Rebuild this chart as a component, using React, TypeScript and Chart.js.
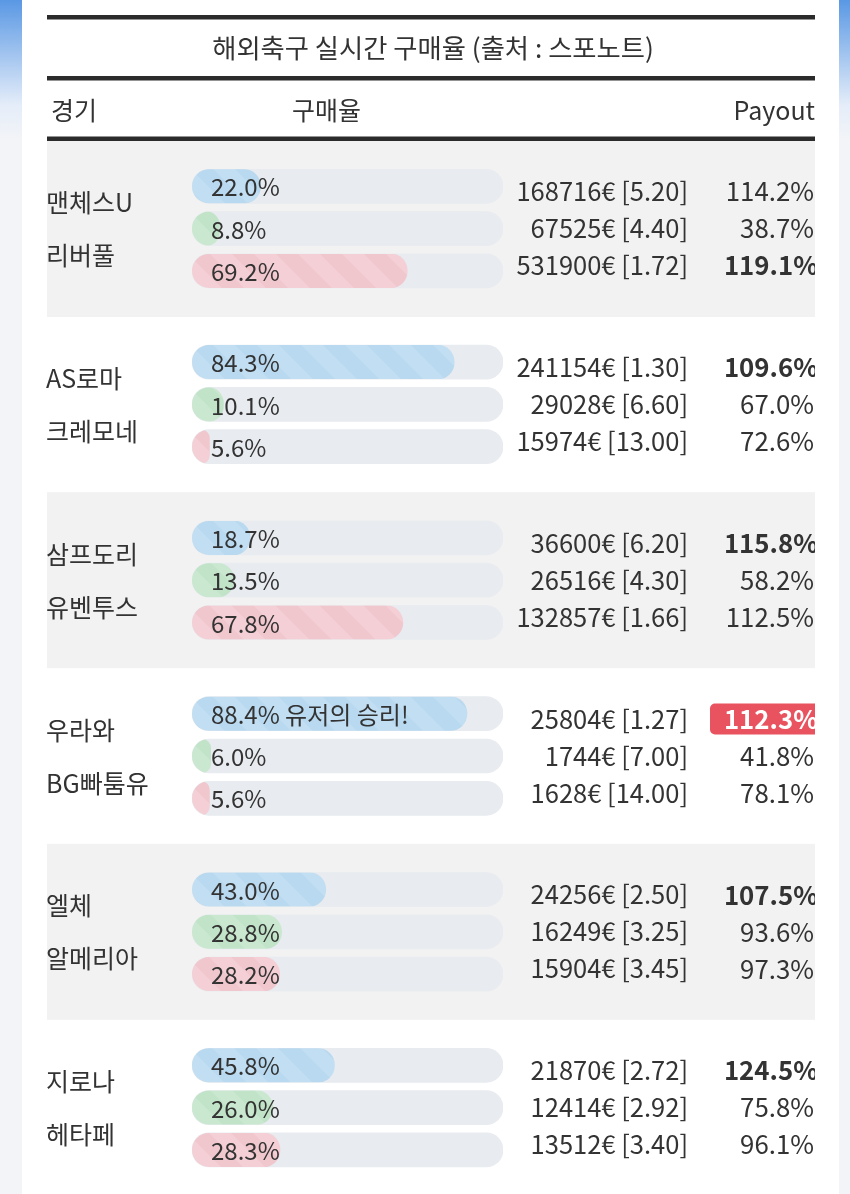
import React, { useEffect, useRef } from "react";
import { Chart, registerables } from "chart.js";
Chart.register(...registerables);

// ---------- data ----------
const TITLE = "해외축구 실시간 구매율 (출처 : 스포노트)";
const HEADER_MATCH = "경기";
const HEADER_RATE = "구매율";
const HEADER_PAYOUT = "Payout";

const HOME_TEAMS = ["맨체스U", "AS로마", "삼프도리", "우라와", "엘체", "지로나"];
const AWAY_TEAMS = ["리버풀", "크레모네", "유벤투스", "BG빠툼유", "알메리아", "헤타페"];

const HOME_RATE = [22.0, 84.3, 18.7, 88.4, 43.0, 45.8];
const DRAW_RATE = [8.8, 10.1, 13.5, 6.0, 28.8, 26.0];
const AWAY_RATE = [69.2, 5.6, 67.8, 5.6, 28.2, 28.3];

const HOME_AMOUNT = [168716, 241154, 36600, 25804, 24256, 21870];
const DRAW_AMOUNT = [67525, 29028, 26516, 1744, 16249, 12414];
const AWAY_AMOUNT = [531900, 15974, 132857, 1628, 15904, 13512];

const HOME_ODDS = ["5.20", "1.30", "6.20", "1.27", "2.50", "2.72"];
const DRAW_ODDS = ["4.40", "6.60", "4.30", "7.00", "3.25", "2.92"];
const AWAY_ODDS = ["1.72", "13.00", "1.66", "14.00", "3.45", "3.40"];

const HOME_PAYOUT = [114.2, 109.6, 115.8, 112.3, 107.5, 124.5];
const DRAW_PAYOUT = [38.7, 67.0, 58.2, 41.8, 93.6, 75.8];
const AWAY_PAYOUT = [119.1, 72.6, 112.5, 78.1, 97.3, 96.1];

// index (0 home, 1 draw, 2 away) of the bold payout in each match
const BEST_PICK = [2, 0, 0, 0, 0, 0];
// index of the pick that won for users (-1 = none)
const USER_WIN = [-1, -1, -1, 0, -1, -1];
const WIN_TEXT = "유저의 승리!";

// ---------- layout ----------
const W = 850;
const H = 1194;
const BAR_LEFT = 192;
const BAR_RIGHT = 503;
const AREA_TOP = 140;
const FIRST_ROW = 186.3;
const ROW_PX = 42.3;
const BLOCK_PX = 175.8;
const FONT = '"Noto Sans CJK KR", "Noto Sans", sans-serif';
const TEXT = "#333333";

const pos = (g: number, r: number) => (g * BLOCK_PX) / ROW_PX + r;

function stripePattern(base: string, light: string): CanvasPattern | string {
  const c = document.createElement("canvas");
  c.width = 44;
  c.height = 44;
  const x = c.getContext("2d");
  if (!x) return base;
  x.fillStyle = base;
  x.fillRect(0, 0, 44, 44);
  x.fillStyle = light;
  for (const k of [-88, -44, 0, 44]) {
    x.beginPath();
    x.moveTo(k, 0);
    x.lineTo(k + 22, 0);
    x.lineTo(k + 66, 44);
    x.lineTo(k + 44, 44);
    x.closePath();
    x.fill();
  }
  const p = x.createPattern(c, "repeat");
  return p || base;
}

export default function App() {
  const ref = useRef<HTMLCanvasElement>(null);

  useEffect(() => {
    const canvas = ref.current;
    if (!canvas) return;

    const blue = stripePattern("#b8d9ef", "#c2def2");
    const green = stripePattern("#c1e4c8", "#c9e8cf");
    const red = stripePattern("#f1c7ce", "#f4d0d6");

    const rows = [HOME_RATE, DRAW_RATE, AWAY_RATE];
    const colored = rows.map((rates, r) => ({
      label: ["홈", "무", "원정"][r],
      data: rates.map((v, g) => ({ x: v, y: pos(g, r) })),
      backgroundColor: [blue, green, red][r],
      borderRadius: 17,
      borderSkipped: false,
      barThickness: 34,
      grouped: false,
    }));
    const trackData: { x: number; y: number }[] = [];
    HOME_RATE.forEach((_, g) => {
      for (let r = 0; r < 3; r++) trackData.push({ x: 100, y: pos(g, r) });
    });
    const track = {
      label: "track",
      data: trackData,
      backgroundColor: "#e8ebef",
      borderRadius: 17,
      borderSkipped: false,
      barThickness: 34,
      grouped: false,
    };

    const yMin = -(FIRST_ROW - AREA_TOP) / ROW_PX;
    const yMax = yMin + (H - AREA_TOP) / ROW_PX;

    const tablePlugin = {
      id: "tablePlugin",
      beforeDraw(chart: any) {
        const ctx: CanvasRenderingContext2D = chart.ctx;
        const ys = chart.scales.y;
        ctx.save();
        ctx.fillStyle = "#f3f4f7";
        ctx.fillRect(0, 0, W, H);
        const grad = ctx.createLinearGradient(0, 0, 0, 140);
        grad.addColorStop(0, "#5a98e4");
        grad.addColorStop(0.75, "#e4edf9");
        grad.addColorStop(1, "#f3f4f7");
        ctx.fillStyle = grad;
        ctx.fillRect(0, 0, 22, 140);
        ctx.fillRect(839, 0, 11, 140);
        ctx.fillStyle = "#ffffff";
        ctx.fillRect(22, 0, 817, H);
        // shaded match blocks
        ctx.fillStyle = "#f2f2f2";
        HOME_TEAMS.forEach((_, g) => {
          if (g % 2 === 0) {
            const mid = ys.getPixelForValue(pos(g, 1));
            ctx.fillRect(47, Math.max(141, mid - 88), 768, 176);
          }
        });
        // rules
        ctx.fillStyle = "#2b2b2b";
        ctx.fillRect(47, 15, 768, 4.5);
        ctx.fillRect(47, 76, 768, 4.5);
        ctx.fillRect(47, 136.5, 768, 4.5);
        // title & header
        ctx.fillStyle = TEXT;
        ctx.textBaseline = "middle";
        ctx.font = `26.3px ${FONT}`;
        ctx.textAlign = "center";
        ctx.fillText(TITLE, 433, 48);
        ctx.font = `25px ${FONT}`;
        ctx.textAlign = "left";
        ctx.fillText(HEADER_MATCH, 51, 110);
        ctx.fillText(HEADER_RATE, 292, 110);
        ctx.textAlign = "right";
        ctx.fillText(HEADER_PAYOUT, 815, 110);
        ctx.restore();
      },
      beforeDatasetDraw(chart: any, args: any) {
        if (args.index > 2) return;
        const ctx: CanvasRenderingContext2D = chart.ctx;
        const meta = chart.getDatasetMeta(3);
        ctx.save();
        ctx.beginPath();
        meta.data.forEach((el: any) => {
          const p = el.getProps(["x", "y", "base", "height"], true);
          const left = Math.min(p.base, p.x);
          const w = Math.abs(p.x - p.base);
          ctx.roundRect(left, p.y - p.height / 2, w, p.height, p.height / 2);
        });
        ctx.clip();
      },
      afterDatasetDraw(chart: any, args: any) {
        if (args.index > 2) return;
        chart.ctx.restore();
      },
      afterDatasetsDraw(chart: any) {
        const ctx: CanvasRenderingContext2D = chart.ctx;
        const ys = chart.scales.y;
        const amounts = [HOME_AMOUNT, DRAW_AMOUNT, AWAY_AMOUNT];
        const odds = [HOME_ODDS, DRAW_ODDS, AWAY_ODDS];
        const payouts = [HOME_PAYOUT, DRAW_PAYOUT, AWAY_PAYOUT];
        ctx.save();
        ctx.textBaseline = "middle";
        HOME_TEAMS.forEach((home, g) => {
          const mid = ys.getPixelForValue(pos(g, 1));
          ctx.fillStyle = TEXT;
          ctx.font = `25px ${FONT}`;
          ctx.textAlign = "left";
          ctx.fillText(home, 46, mid - 26);
          ctx.fillText(AWAY_TEAMS[g], 46, mid + 27);
          for (let r = 0; r < 3; r++) {
            const by = ys.getPixelForValue(pos(g, r));
            const rate = rows[r][g].toFixed(1) + "%";
            ctx.fillStyle = TEXT;
            ctx.font = `24px ${FONT}`;
            ctx.textAlign = "left";
            ctx.fillText(USER_WIN[g] === r ? `${rate} ${WIN_TEXT}` : rate, 211, by + 1);
            const ty = mid + (r - 1) * 37;
            ctx.font = `25.5px ${FONT}`;
            ctx.textAlign = "right";
            ctx.fillText(`${amounts[r][g]}€ [${odds[r][g]}]`, 688, ty);
            ctx.save();
            ctx.beginPath();
            ctx.rect(600, ty - 30, 215, 60);
            ctx.clip();
            const bold = BEST_PICK[g] === r;
            if (USER_WIN[g] === r) {
              ctx.fillStyle = "#e9525f";
              ctx.beginPath();
              ctx.roundRect(710, ty - 15.5, 120, 31, 5);
              ctx.fill();
              ctx.fillStyle = "#ffffff";
            } else {
              ctx.fillStyle = TEXT;
            }
            ctx.font = `${bold ? "bold " : ""}25.8px ${FONT}`;
            ctx.fillText(payouts[r][g].toFixed(1) + "%", bold ? 818 : 814, ty);
            ctx.restore();
          }
        });
        ctx.restore();
      },
    };

    const chart = new Chart(canvas, {
      type: "bar",
      data: { datasets: [...colored, track] as any },
      options: {
        indexAxis: "y",
        responsive: false,
        devicePixelRatio: 1,
        animation: false,
        events: [],
        layout: { padding: { left: BAR_LEFT, right: W - BAR_RIGHT, top: AREA_TOP, bottom: 0 } },
        scales: {
          x: { type: "linear", min: 0, max: 100, display: false },
          y: { type: "linear", min: yMin, max: yMax, reverse: true, offset: false, display: false },
        },
        plugins: { legend: { display: false }, tooltip: { enabled: false } },
      },
      plugins: [tablePlugin],
    });
    return () => chart.destroy();
  }, []);

  return (
    <div style={{ position: "absolute", left: 0, top: 0, width: W, height: H }}>
      <canvas ref={ref} width={W} height={H} style={{ display: "block" }} />
    </div>
  );
}
